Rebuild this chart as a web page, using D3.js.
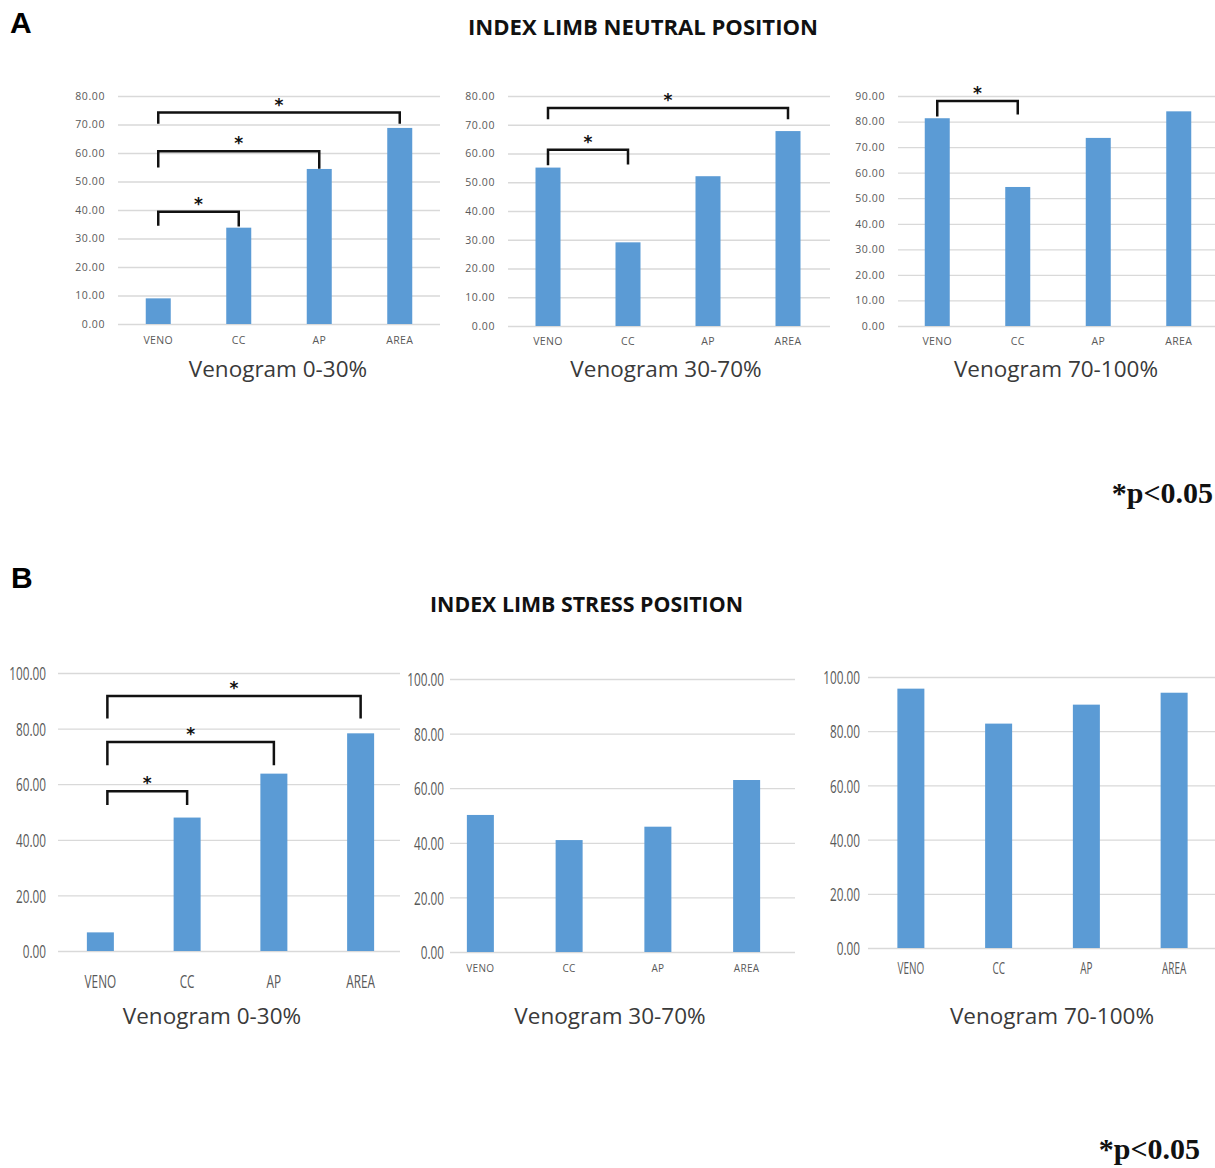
<!DOCTYPE html>
<html>
<head>
<meta charset="utf-8">
<script src="https://cdn.jsdelivr.net/npm/d3@7"></script>
<style>
  body { margin: 0; background: #fff; }
  svg { display: block; }
</style>
</head>
<body>
<div id="chart"></div>
<script>
// categories shared by every small chart
var categories = ["VENO", "CC", "AP", "AREA"];

// panel A - neutral position
var neutral030 = [9.0, 33.8, 54.4, 68.8];
var neutral3070 = [55.1, 29.1, 52.1, 67.8];
var neutral70100 = [81.3, 54.4, 73.6, 84.0];

// panel B - stress position
var stress030 = [6.7, 48.0, 63.8, 78.3];
var stress3070 = [50.2, 41.0, 45.9, 63.0];
var stress70100 = [95.7, 82.8, 89.8, 94.2];

// y ticks
var ticks80 = [0, 10, 20, 30, 40, 50, 60, 70, 80];
var ticks90 = [0, 10, 20, 30, 40, 50, 60, 70, 80, 90];
var ticks100 = [0, 20, 40, 60, 80, 100];

// significance brackets: [from, to, bar top, left leg end, right leg end]
var neutral030Brackets = [["VENO", "CC", 39.4, 34.5, 34.2], ["VENO", "AP", 60.6, 54.9, 54.5], ["VENO", "AREA", 74.2, 70.3, 70.3]];
var neutral3070Brackets = [["VENO", "CC", 61.3, 55.9, 56.2], ["VENO", "AREA", 75.8, 71.9, 71.9]];
var neutral70100Brackets = [["VENO", "CC", 88.0, 82.0, 82.8]];
var stress030Brackets = [["VENO", "CC", 57.5, 52.5, 52.5], ["VENO", "AP", 75.2, 66.8, 66.8], ["VENO", "AREA", 91.7, 83.6, 83.6]];

var subtitles = ["Venogram 0-30%", "Venogram 30-70%", "Venogram 70-100%"];

var width = 1215, height = 1168;
var barColor = "#5b9bd5";

var svg = d3.select("#chart").append("svg")
  .attr("width", width)
  .attr("height", height);

// layout of the six small charts
var charts = [
  { values: neutral030, ticks: ticks80, max: 80, brackets: neutral030Brackets, sub: subtitles[0],
    x0: 118, x1: 440, gx0: 118, gx1: 440, top: 96, bottom: 324, bw: 25, style: "a", subX: 278, subY: 377, labY: 344 },
  { values: neutral3070, ticks: ticks80, max: 80, brackets: neutral3070Brackets, sub: subtitles[1],
    x0: 508, x1: 828, gx0: 508, gx1: 830, top: 96, bottom: 326, bw: 25, style: "a", subX: 666, subY: 377, labY: 345 },
  { values: neutral70100, ticks: ticks90, max: 90, brackets: neutral70100Brackets, sub: subtitles[2],
    x0: 897, x1: 1219, gx0: 898, gx1: 1215, top: 96, bottom: 326, bw: 25, style: "a", subX: 1056, subY: 377, labY: 345 },
  { values: stress030, ticks: ticks100, max: 100, brackets: stress030Brackets, sub: subtitles[0],
    x0: 57, x1: 404, gx0: 58, gx1: 400, top: 673, bottom: 951, bw: 27, style: "b", gap: 12, legShift: 7,
    subX: 212, subY: 1024, labY: 988, labSize: 19 },
  { values: stress3070, ticks: ticks100, max: 100, brackets: [], sub: subtitles[1],
    x0: 436, x1: 791, gx0: 450, gx1: 795, top: 679, bottom: 952, bw: 27, style: "b", gap: 6,
    subX: 610, subY: 1024, labY: 972, smallLabels: true },
  { values: stress70100, ticks: ticks100, max: 100, brackets: [], sub: subtitles[2],
    x0: 867, x1: 1218, gx0: 868, gx1: 1215, top: 677, bottom: 948, bw: 27, style: "b", gap: 8,
    subX: 1052, subY: 1024, labY: 974, labSize: 16 }
];

charts.forEach(function (c) {
  var g = svg.append("g");

  var x = d3.scaleBand().domain(categories).range([c.x0, c.x1]);
  var y = d3.scaleLinear().domain([0, c.max]).range([c.bottom, c.top]);

  // gridlines + tick labels through d3 axis
  var axis = g.append("g")
    .attr("transform", "translate(" + c.gx0 + ",0)")
    .call(d3.axisLeft(y).tickValues(c.ticks).tickFormat(d3.format(".2f"))
      .tickSize(-(c.gx1 - c.gx0)).tickPadding(0));
  axis.select(".domain").remove();
  axis.selectAll(".tick line")
    .attr("stroke", "#d9d9d9")
    .attr("stroke-width", 1.3);

  if (c.style == "a") {
    axis.selectAll(".tick text")
      .attr("x", -13)
      .attr("fill", "#595959")
      .attr("font-family", "Open Sans, sans-serif")
      .attr("font-size", "10.5px")
      .attr("letter-spacing", "0.6px");
  } else {
    // tall, squeezed labels
    axis.selectAll(".tick text")
      .attr("x", 0)
      .attr("dy", "0.35em")
      .attr("transform", "translate(" + (-c.gap) + ",0) scale(0.62,1)")
      .attr("fill", "#595959")
      .attr("font-family", "Open Sans, sans-serif")
      .attr("font-size", "19px");
  }

  // bars
  g.selectAll("rect.bar")
    .data(c.values)
    .join("rect")
    .attr("class", "bar")
    .attr("x", function (d, i) { return x(categories[i]) + x.bandwidth() / 2 - c.bw / 2; })
    .attr("y", function (d) { return y(d); })
    .attr("width", c.bw)
    .attr("height", function (d) { return y(0) - y(d); })
    .attr("fill", barColor);

  // category labels
  var lab = g.selectAll("text.cat")
    .data(categories)
    .join("text")
    .attr("class", "cat")
    .attr("text-anchor", "middle")
    .attr("fill", "#595959")
    .attr("font-family", "Open Sans, sans-serif")
    .text(function (d) { return d; });

  if (c.style == "a" || c.smallLabels) {
    lab.attr("x", function (d) { return x(d) + x.bandwidth() / 2; })
      .attr("y", c.labY)
      .attr("font-size", c.smallLabels ? "10px" : "10.5px")
      .attr("letter-spacing", "0.3px");
  } else {
    lab.attr("transform", function (d) {
        return "translate(" + (x(d) + x.bandwidth() / 2) + "," + c.labY + ") scale(0.62,1)";
      })
      .attr("font-size", c.labSize + "px");
  }

  // significance brackets
  c.brackets.forEach(function (b) {
    var xa = x(b[0]) + x.bandwidth() / 2 + (c.legShift || 0);
    var xb = x(b[1]) + x.bandwidth() / 2;
    g.append("path")
      .attr("d", "M" + xa + "," + y(b[3]) + "V" + y(b[2]) + "H" + xb + "V" + y(b[4]))
      .attr("fill", "none")
      .attr("stroke", "#111")
      .attr("stroke-width", 2.5);
    g.append("text")
      .attr("x", (xa + xb) / 2)
      .attr("y", y(b[2]) - 2)
      .attr("text-anchor", "middle")
      .attr("font-family", "DejaVu Sans, sans-serif")
      .attr("font-size", "17px")
      .attr("font-weight", "bold")
      .attr("fill", "#111")
      .text("*");
  });

  // subtitle under each chart
  g.append("text")
    .attr("x", c.subX)
    .attr("y", c.subY)
    .attr("text-anchor", "middle")
    .attr("font-family", "Open Sans, sans-serif")
    .attr("font-size", "22.5px")
    .attr("fill", "#3a3a3a")
    .text(c.sub);
});

// panel letters and titles
svg.append("text").attr("x", 10).attr("y", 33)
  .attr("font-family", "Liberation Sans, Arial, sans-serif")
  .attr("font-weight", "bold").attr("font-size", "30px").text("A");
svg.append("text").attr("x", 11).attr("y", 588)
  .attr("font-family", "Liberation Sans, Arial, sans-serif")
  .attr("font-weight", "bold").attr("font-size", "30px").text("B");

svg.append("text").attr("x", 468).attr("y", 35)
  .attr("font-family", "Open Sans, sans-serif")
  .attr("font-weight", "bold").attr("font-size", "22px")
  .attr("textLength", 350).attr("lengthAdjust", "spacingAndGlyphs")
  .attr("fill", "#111")
  .text("INDEX LIMB NEUTRAL POSITION");
svg.append("text").attr("x", 430).attr("y", 612)
  .attr("font-family", "Open Sans, sans-serif")
  .attr("font-weight", "bold").attr("font-size", "22px")
  .attr("textLength", 313).attr("lengthAdjust", "spacingAndGlyphs")
  .attr("fill", "#111")
  .text("INDEX LIMB STRESS POSITION");

// p value notes
svg.append("text").attr("x", 1213).attr("y", 503)
  .attr("text-anchor", "end")
  .attr("font-family", "Liberation Serif, Times New Roman, serif")
  .attr("font-weight", "bold").attr("font-size", "30px")
  .attr("fill", "#111")
  .text("*p<0.05");
svg.append("text").attr("x", 1200).attr("y", 1159)
  .attr("text-anchor", "end")
  .attr("font-family", "Liberation Serif, Times New Roman, serif")
  .attr("font-weight", "bold").attr("font-size", "30px")
  .attr("fill", "#111")
  .text("*p<0.05");
</script>
</body>
</html>
